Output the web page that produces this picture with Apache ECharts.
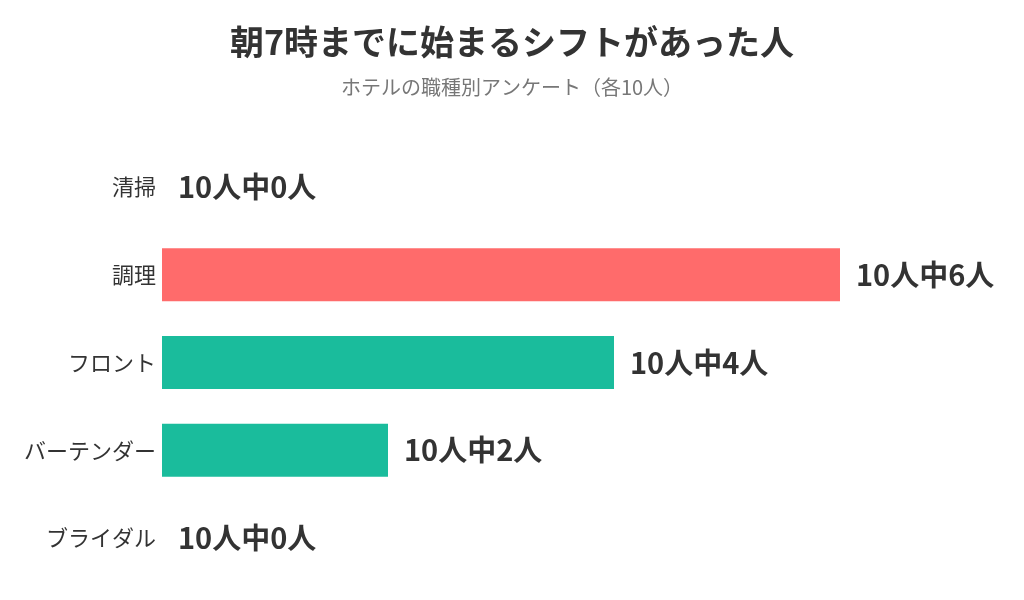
<!DOCTYPE html>
<html>
<head>
    <meta charset="UTF-8">
    <title>ECharts</title>
    <script src="https://cdn.jsdelivr.net/npm/echarts@6/dist/echarts.min.js"></script>
    <style>
        html, body { margin: 0; padding: 0; background: #fff; }
        #main { width: 1024px; height: 600px; }
    </style>
</head>
<body>
<div id="main"></div>
<script type="text/javascript">
// 職種（上から順）
var categories = ['清掃', '調理', 'フロント', 'バーテンダー', 'ブライダル'];
// 10人中の人数
var counts = [0, 6, 4, 2, 0];
var total = 10;
// 強調する職種
var highlight = '調理';

var FONT = '"Noto Sans CJK JP", "Noto Sans", sans-serif';

var myChart = echarts.init(document.getElementById('main'));

var option = {
    backgroundColor: '#fff',
    title: {
        text: '朝7時までに始まるシフトがあった人',
        subtext: 'ホテルの職種別アンケート（各10人）',
        left: 'center',
        top: 20,
        itemGap: 18,
        textStyle: { fontFamily: FONT, fontSize: 34, fontWeight: 'bold', color: '#333' },
        subtextStyle: { fontFamily: FONT, fontSize: 20, color: '#777' }
    },
    grid: { left: 162, right: 184, top: 143, bottom: 18 },
    xAxis: {
        type: 'value',
        min: 0,
        max: 6,
        show: false
    },
    yAxis: {
        type: 'category',
        inverse: true,
        data: categories,
        axisLine: { show: false },
        axisTick: { show: false },
        axisLabel: { fontFamily: FONT, fontSize: 22, color: '#333', margin: 6 }
    },
    series: [{
        type: 'bar',
        barWidth: 53,
        data: counts.map(function (v, i) {
            return {
                value: v,
                itemStyle: { color: categories[i] === highlight ? '#ff6b6b' : '#1abc9c' }
            };
        }),
        label: {
            show: true,
            position: 'right',
            distance: 16,
            fontFamily: FONT,
            fontSize: 29,
            fontWeight: 'bold',
            color: '#333',
            formatter: function (p) { return total + '人中' + p.value + '人'; }
        }
    }]
};

myChart.setOption(option);
</script>
</body>
</html>
